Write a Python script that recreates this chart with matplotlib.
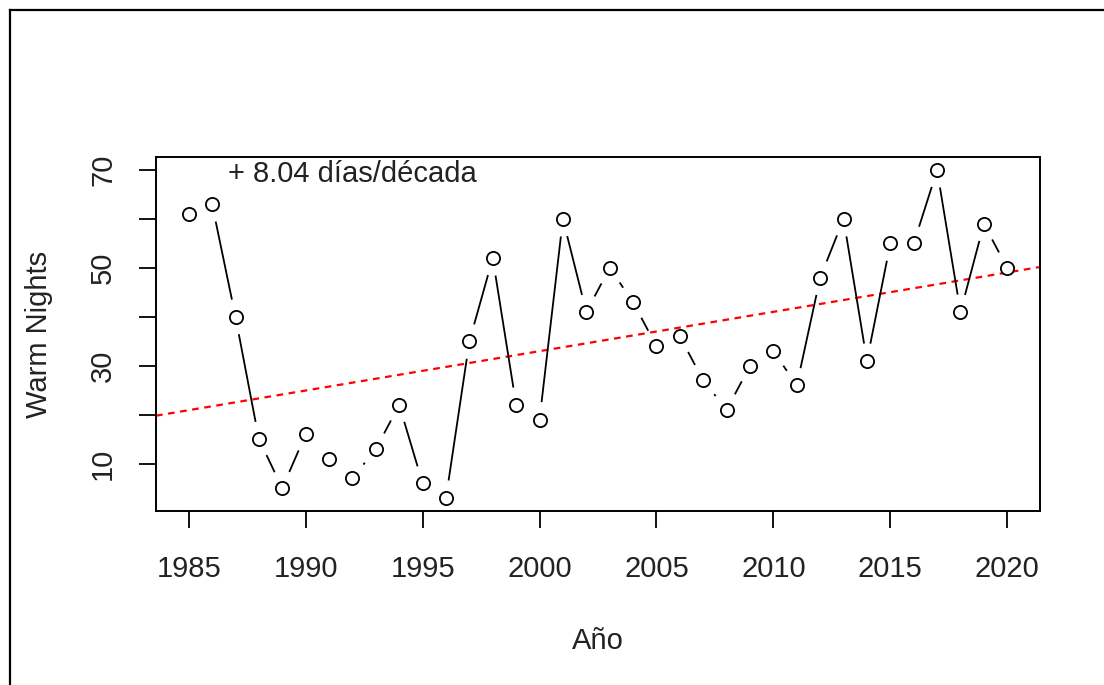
import numpy as np
import matplotlib
matplotlib.use("Agg")
import matplotlib.pyplot as plt
from matplotlib.lines import Line2D

years = list(range(1985, 2021))
warm_nights = [61, 63, 40, 15, 5, 16, 11, 7, 13, 22, 6, 3, 35, 52, 22, 19, 60, 41, 50, 43,
               34, 36, 27, 21, 30, 33, 26, 48, 60, 31, 55, 55, 70, 41, 59, 50]
x_ticks = [1985, 1990, 1995, 2000, 2005, 2010, 2015, 2020]
y_ticks = [10, 20, 30, 40, 50, 60, 70]
y_labels = ["10", "", "30", "", "50", "", "70"]
annotation = "+ 8.04 días/década"

plt.rcParams['font.family'] = ['Liberation Sans', 'DejaVu Sans']
W, H = 1104, 685
FS = 21
fig = plt.figure(figsize=(W / 100, H / 100), dpi=100)
ax = fig.add_axes([156 / W, 1 - 511 / H, (1040 - 156) / W, (511 - 157) / H])

x = np.array(years, dtype=float)
y = np.array(warm_nights, dtype=float)
xr = x.max() - x.min()
yr = y.max() - y.min()
ax.set_xlim(x.min() - 0.04 * xr, x.max() + 0.04 * xr)
ax.set_ylim(y.min() - 0.04 * yr, y.max() + 0.04 * yr)

# points
ax.plot(x, y, linestyle='none', marker='o', markersize=9.5, markerfacecolor='white',
        markeredgecolor='black', markeredgewidth=1.3, zorder=3)

# type="b" connecting segments with gaps
gap = 17.6
disp = ax.transData.transform(np.column_stack([x, y]))
inv = ax.transData.inverted()
for i in range(len(x) - 1):
    p0, p1 = disp[i], disp[i + 1]
    d = p1 - p0
    L = np.hypot(*d)
    if L <= 2 * gap:
        continue
    u = d / L
    a = inv.transform(p0 + u * gap)
    b = inv.transform(p1 - u * gap)
    ax.plot([a[0], b[0]], [a[1], b[1]], color='black', lw=1.3, solid_capstyle='butt', zorder=2)

# trend line
coef = np.polyfit(x, y, 1)
xl = np.array(ax.get_xlim())
ax.plot(xl, np.polyval(coef, xl), color='#FF0000', lw=1.6, linestyle=(0, (3, 2.5)), zorder=1)

ax.text(1992, 69.2, annotation, ha='center', va='center', fontsize=FS, color='#222222')

ax.set_xticks(x_ticks)
ax.set_xticklabels([str(t) for t in x_ticks])
ax.set_yticks(y_ticks)
ax.set_yticklabels(y_labels, rotation=90, va='center')
ax.tick_params(axis='both', length=12.5, width=1.3, labelsize=FS, colors='black',
               labelcolor='#222222')
ax.tick_params(axis='x', pad=19)
ax.tick_params(axis='y', pad=15.5)
for s in ax.spines.values():
    s.set_linewidth(1.4)

ax.set_xlabel("Año", fontsize=FS, color='#222222', labelpad=32)
ax.set_ylabel("Warm Nights", fontsize=FS, color='#222222', labelpad=26)

# outer frame (left and top edges visible)
fig.add_artist(Line2D([9.5 / W, 9.5 / W], [0, 1 - 10 / H], transform=fig.transFigure,
                      color='black', lw=1.6))
fig.add_artist(Line2D([9.5 / W, 1], [1 - 10 / H, 1 - 10 / H], transform=fig.transFigure,
                      color='black', lw=1.6))

fig.savefig("out.png", dpi=100)
